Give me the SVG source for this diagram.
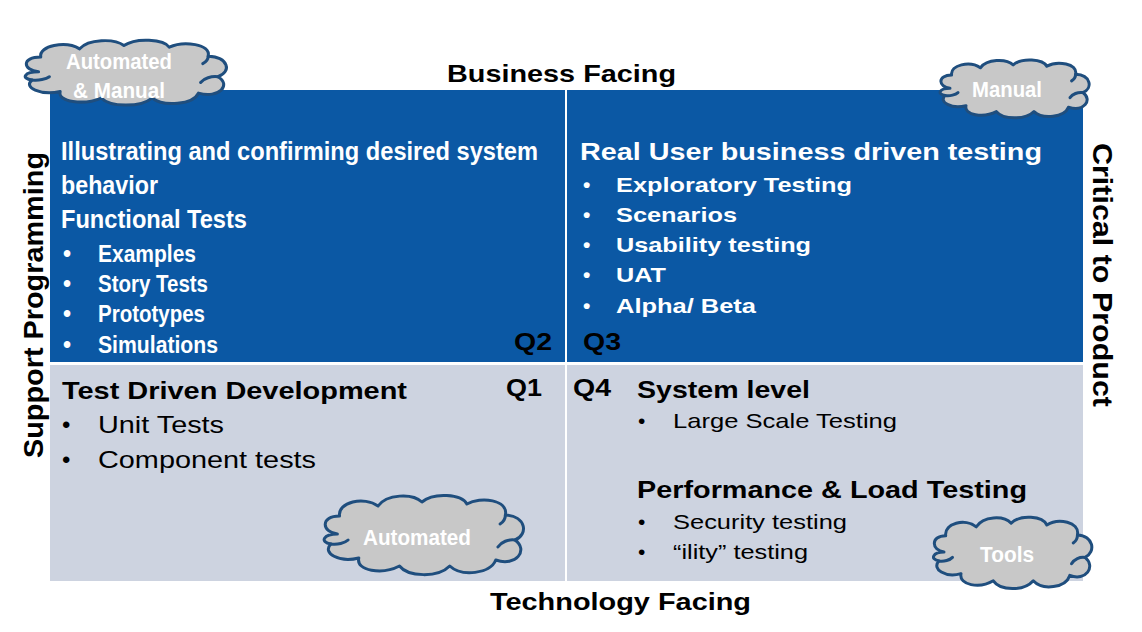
<svg xmlns="http://www.w3.org/2000/svg" width="1142" height="632" viewBox="0 0 1142 632">
<style>
  text { font-family: "Liberation Sans", Arial, sans-serif; }
  .b { font-weight: bold; }
  .w { fill: #ffffff; }
  .k { fill: #000000; }
  .h { font-size: 24px; }
  .q2h { font-size: 25px; }
  .m { font-size: 23px; }
  .s { font-size: 21px; }
  .ct { font-size: 22px; fill: #ffffff; font-weight: bold; }
  .cloud { fill: #c8c8c8; stroke: #1f4e7e; stroke-width: 3; vector-effect: non-scaling-stroke; stroke-linejoin: round; }
  .curl { fill: none; stroke: #1f4e7e; stroke-width: 3; vector-effect: non-scaling-stroke; stroke-linecap: round; }
</style>
<defs>
  <g id="cloudShape">
    <path class="cloud" d="M 20,40 C 5,38 4,22 22,22 C 20,8 45,2 58,12 C 66,0 90,-1 99,8 C 110,-2 136,0 141,10 C 154,2 180,6 177,21 C 196,22 199,40 186,46 C 199,56 187,73 168,66 C 163,80 136,83 125,72 C 114,84 86,83 78,72 C 62,81 37,77 40,64 C 22,69 5,59 14,50 C 3,48 7,40 20,40 Z"/>
    <path class="curl" d="M 14,50 C 20,51 27,49 30,46"/>
    <path class="curl" d="M 186,46 C 180,45 173,48 170,53"/>
    <path class="curl" d="M 177,21 C 177,25 175,28 172,30"/>
  </g>
</defs>
<rect x="0" y="0" width="1142" height="632" fill="#ffffff"/>

<g id="quadrants">
  <rect x="50" y="90" width="1033" height="273" fill="#0b58a4"/>
  <rect x="50" y="364" width="1033" height="217" fill="#cdd3e0"/>
  <line x1="50" y1="363.5" x2="1083" y2="363.5" stroke="#ffffff" stroke-width="3"/>
  <line x1="566" y1="90" x2="566" y2="581" stroke="#ffffff" stroke-width="2"/>
</g>

<g id="axis-labels" class="b k">
  <text x="447" y="82" class="h" textLength="229" lengthAdjust="spacingAndGlyphs">Business Facing</text>
  <text x="490" y="610" class="h" textLength="261" lengthAdjust="spacingAndGlyphs">Technology Facing</text>
  <text transform="translate(43,458) rotate(-90)" x="0" y="0" style="font-size:28px" textLength="306" lengthAdjust="spacingAndGlyphs">Support Programming</text>
  <text transform="translate(1093,143) rotate(90)" x="0" y="0" style="font-size:28px" textLength="264" lengthAdjust="spacingAndGlyphs">Critical to Product</text>
</g>

<g id="q2" class="b w">
  <text x="61" y="160" class="q2h" textLength="477" lengthAdjust="spacingAndGlyphs">Illustrating and confirming desired system</text>
  <text x="61" y="194" class="q2h" textLength="97" lengthAdjust="spacingAndGlyphs">behavior</text>
  <text x="61" y="228" class="q2h" textLength="186" lengthAdjust="spacingAndGlyphs">Functional Tests</text>
  <text x="63" y="262" class="m">•</text>
  <text x="98" y="262" class="m" textLength="98" lengthAdjust="spacingAndGlyphs">Examples</text>
  <text x="63" y="292" class="m">•</text>
  <text x="98" y="292" class="m" textLength="110" lengthAdjust="spacingAndGlyphs">Story Tests</text>
  <text x="63" y="322" class="m">•</text>
  <text x="98" y="322" class="m" textLength="107" lengthAdjust="spacingAndGlyphs">Prototypes</text>
  <text x="63" y="353" class="m">•</text>
  <text x="98" y="353" class="m" textLength="120" lengthAdjust="spacingAndGlyphs">Simulations</text>
  <text x="514" y="350" class="h k" textLength="38" lengthAdjust="spacingAndGlyphs">Q2</text>
</g>

<g id="q3" class="b w">
  <text x="580" y="160" class="h" textLength="462" lengthAdjust="spacingAndGlyphs">Real User business driven testing</text>
  <text x="583" y="192" class="s">•</text>
  <text x="616" y="192" class="s" textLength="236" lengthAdjust="spacingAndGlyphs">Exploratory Testing</text>
  <text x="583" y="222" class="s">•</text>
  <text x="616" y="222" class="s" textLength="121" lengthAdjust="spacingAndGlyphs">Scenarios</text>
  <text x="583" y="252" class="s">•</text>
  <text x="616" y="252" class="s" textLength="195" lengthAdjust="spacingAndGlyphs">Usability testing</text>
  <text x="583" y="282" class="s">•</text>
  <text x="616" y="282" class="s" textLength="50" lengthAdjust="spacingAndGlyphs">UAT</text>
  <text x="583" y="313" class="s">•</text>
  <text x="616" y="313" class="s" textLength="140" lengthAdjust="spacingAndGlyphs">Alpha/ Beta</text>
  <text x="583" y="350" class="h k" textLength="38" lengthAdjust="spacingAndGlyphs">Q3</text>
</g>

<g id="q1" class="k">
  <text x="62" y="399" class="h b" textLength="345" lengthAdjust="spacingAndGlyphs">Test Driven Development</text>
  <text x="506" y="396" class="h b" textLength="36" lengthAdjust="spacingAndGlyphs">Q1</text>
  <text x="62" y="433" class="h">•</text>
  <text x="98" y="433" class="h" textLength="126" lengthAdjust="spacingAndGlyphs">Unit Tests</text>
  <text x="62" y="468" class="h">•</text>
  <text x="98" y="468" class="h" textLength="218" lengthAdjust="spacingAndGlyphs">Component tests</text>
</g>

<g id="q4" class="k">
  <text x="573" y="396" class="h b" textLength="38" lengthAdjust="spacingAndGlyphs">Q4</text>
  <text x="637" y="398" class="h b" textLength="173" lengthAdjust="spacingAndGlyphs">System level</text>
  <text x="638" y="428" class="s">•</text>
  <text x="673" y="428" class="s" textLength="224" lengthAdjust="spacingAndGlyphs">Large Scale Testing</text>
  <text x="637" y="498" class="h b" textLength="390" lengthAdjust="spacingAndGlyphs">Performance &amp; Load Testing</text>
  <text x="638" y="529" class="s">•</text>
  <text x="673" y="529" class="s" textLength="174" lengthAdjust="spacingAndGlyphs">Security testing</text>
  <text x="638" y="559" class="s">•</text>
  <text x="673" y="559" class="s" textLength="135" lengthAdjust="spacingAndGlyphs">“ility” testing</text>
</g>

<g id="cloud-automated-manual">
  <use href="#cloudShape" transform="translate(17,39) scale(1.08,0.82)"/>
  <text x="66" y="69" class="ct" textLength="106" lengthAdjust="spacingAndGlyphs">Automated</text>
  <text x="73" y="98" class="ct" textLength="92" lengthAdjust="spacingAndGlyphs">&amp; Manual</text>
</g>

<g id="cloud-manual">
  <use href="#cloudShape" transform="translate(934,59) scale(0.8,0.73)"/>
  <text x="972" y="97" class="ct" textLength="70" lengthAdjust="spacingAndGlyphs">Manual</text>
</g>

<g id="cloud-automated">
  <use href="#cloudShape" transform="translate(316,494) scale(1.07,1.0)"/>
  <text x="363" y="545" class="ct" textLength="108" lengthAdjust="spacingAndGlyphs">Automated</text>
</g>

<g id="cloud-tools">
  <use href="#cloudShape" transform="translate(927,516) scale(0.85,0.9)"/>
  <text x="980" y="562" class="ct" textLength="54" lengthAdjust="spacingAndGlyphs">Tools</text>
</g>

<g id="connectors"></g>
</svg>
